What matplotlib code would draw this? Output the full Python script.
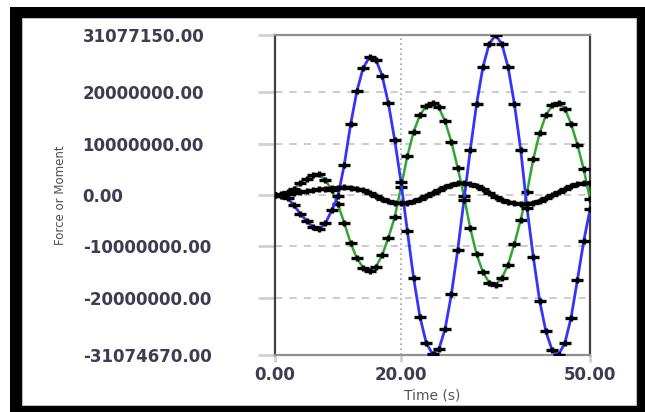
import numpy as np
import matplotlib
matplotlib.use("Agg")
import matplotlib.pyplot as plt
from matplotlib.patches import Rectangle
from matplotlib.path import Path

# time samples (s)
time_s = list(range(0, 51))

# blue series (millions)
blue_m = [0.0, -0.1, -0.6, -2.0, -3.6, -5.0, -6.2, -6.6, -5.5, -3.0,
          -0.2, 5.9, 13.7, 20.2, 24.7, 26.8, 26.3, 23.2, 17.8, 10.7,
          2.5, -6.9, -16.1, -23.6, -28.7, -30.9, -30.0, -26.0, -19.3, -10.7,
          -1.0, 8.8, 17.7, 24.8, 29.4, 31.0, 29.4, 24.8, 17.7, 8.8,
          -2.5, -12.0, -20.5, -26.5, -30.2, -31.0, -28.8, -23.8, -16.5, -9.0,
          -2.8]

# green series (millions)
green_m = [0.0, 0.2, 0.5, 1.2, 2.3, 3.2, 3.8, 4.0, 2.9, 1.0,
           -1.8, -5.5, -9.3, -12.3, -14.1, -14.7, -14.0, -11.7, -8.3, -4.3,
           1.5, 7.5, 12.3, 15.5, 17.3, 17.9, 17.0, 14.3, 10.3, 5.3,
           -0.2, -6.5, -11.5, -15.0, -17.0, -17.4, -16.2, -13.5, -9.5, -4.8,
           0.5, 7.0, 12.0, 15.5, 17.4, 17.9, 16.8, 13.8, 9.8, 5.0,
           -0.8]

# dark series (millions)
dark_m = [0.0, 0.05, 0.15, 0.3, 0.5, 0.7, 0.9, 1.1, 1.25, 1.35,
          1.45, 1.5, 1.45, 1.25, 0.9, 0.4, -0.2, -0.7, -1.2, -1.5,
          -1.6, -1.5, -1.2, -0.7, -0.2, 0.4, 1.0, 1.6, 2.0, 2.3,
          2.3, 2.1, 1.7, 1.1, 0.4, -0.3, -0.9, -1.3, -1.6, -1.7,
          -1.7, -1.5, -1.1, -0.6, 0.0, 0.6, 1.2, 1.7, 2.1, 2.3,
          2.4]

y_ticks = [-31074670.00, -20000000.00, -10000000.00, 0.00,
           10000000.00, 20000000.00, 31077150.00]
x_ticks = [0.00, 20.00, 50.00]

t = np.array(time_s)
blue = np.array(blue_m) * 1e6
green = np.array(green_m) * 1e6
dark = np.array(dark_m) * 1e6

W, H = 645, 412
fig = plt.figure(figsize=(W / 100, H / 100), dpi=100)

# black frame round the whole picture
fig.patches.append(Rectangle((10 / W, 0), 635 / W, 405 / H, transform=fig.transFigure,
                             facecolor='black', edgecolor='none', zorder=-10))
fig.patches.append(Rectangle((22 / W, 7 / H), 614 / W, 387 / H, transform=fig.transFigure,
                             facecolor='white', edgecolor='#bbbbbb', lw=0.8, zorder=-9))

ax = fig.add_axes([275 / W, 57 / H, 315 / W, 320 / H])

# wide flat cross used as the point marker
cross = Path([(-1, 0), (1, 0), (0, -0.5), (0, 0.5)],
             [Path.MOVETO, Path.LINETO, Path.MOVETO, Path.LINETO])
mk = dict(marker=cross, markersize=8, markeredgewidth=2.4, markeredgecolor='black',
          markerfacecolor='none')
ax.plot(t, green, color='#2ea82e', lw=1.8, **mk, zorder=3)
ax.plot(t, blue, color='#3434ff', lw=2.0, **mk, zorder=4)
ax.plot(t, dark, color='#501010', lw=2.4, **mk, zorder=5)

ax.set_xlim(0, 50)
ax.set_ylim(y_ticks[0], y_ticks[-1])
ax.set_xticks(x_ticks)
ax.set_xticklabels([f'{v:.2f}' for v in x_ticks])
ax.set_yticks(y_ticks)
ax.set_yticklabels([f'{v:.2f}' for v in y_ticks])

lab_col = '#3c3c52'
ax.tick_params(axis='y', length=12, width=2, color='#d0d0d0', pad=126.5,
               labelsize=12, labelcolor=lab_col)
ax.tick_params(axis='x', length=5, width=2, color='#d0d0d0', pad=3,
               labelsize=12, labelcolor=lab_col)
for lab in ax.get_yticklabels():
    lab.set_horizontalalignment('left')
    lab.set_fontweight('bold')
for lab in ax.get_xticklabels():
    lab.set_fontweight('bold')

ax.yaxis.grid(True, linestyle=(0, (4, 4)), color='#c8c8c8', lw=1.3)
ax.xaxis.grid(True, linestyle=(0, (1, 2)), color='#a0a0a0', lw=1.2)
ax.set_axisbelow(True)

for side in ['left', 'right']:
    ax.spines[side].set_color('#404040')
    ax.spines[side].set_linewidth(1.6)
for side in ['top', 'bottom']:
    ax.spines[side].set_color('#909090')
    ax.spines[side].set_linewidth(1.6)

ax.set_xlabel('Time (s)', fontsize=10, color='#555555', labelpad=3)
fig.text(61 / W, 1 - 195 / H, 'Force or Moment', rotation=90, ha='center', va='center',
         fontsize=8.5, color='#505050', family=['Liberation Sans Narrow', 'DejaVu Sans'])

fig.savefig('out.png', dpi=100)
